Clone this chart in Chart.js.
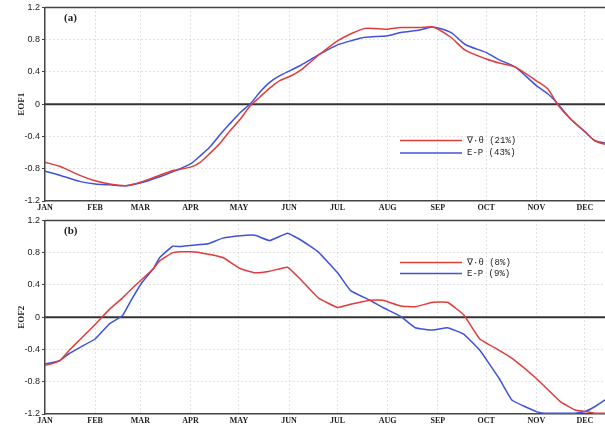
<!DOCTYPE html>
<html><head><meta charset="utf-8">
<script src="https://cdn.jsdelivr.net/npm/chart.js@4"></script>
<style>
html,body{margin:0;padding:0;background:#fff;overflow:hidden;width:605px;height:431px;position:relative;}
canvas{position:absolute;left:0;}
#ca{top:0;}
#cb{top:213px;}
</style></head><body>
<canvas id="ca" width="660" height="215"></canvas>
<canvas id="cb" width="660" height="218"></canvas>
<script>
const monthLabels = ['JAN','FEB','MAR','APR','MAY','JUN','JUL','AUG','SEP','OCT','NOV','DEC'];
const monthDays = [0,31,59,90,120,151,181,212,243,273,304,334];
const yTicks = [-1.2,-0.8,-0.4,0,0.4,0.8,1.2];

// Panel (a) EOF1
const daysA = [0,9,22,31,40,50,60,71,80,90,96,102,108,114,121,127,133,139,145,152,158,164,170,181,189,198,212,220,232,240,251,260,273,281,291,304,311,317,325,334,340,346,352];
const eof1Theta = [-0.72,-0.77,-0.885,-0.95,-0.99,-1.01,-0.96,-0.88,-0.82,-0.78,-0.72,-0.61,-0.49,-0.34,-0.18,-0.02,0.09,0.20,0.29,0.35,0.42,0.52,0.62,0.785,0.87,0.94,0.93,0.95,0.95,0.957,0.83,0.67,0.56,0.51,0.46,0.29,0.19,0.0,-0.18,-0.34,-0.45,-0.495,-0.52];
const eof1EP = [-0.83,-0.88,-0.96,-0.99,-1.0,-1.01,-0.97,-0.90,-0.83,-0.74,-0.64,-0.53,-0.385,-0.25,-0.10,0.005,0.15,0.27,0.35,0.42,0.48,0.55,0.62,0.735,0.785,0.83,0.85,0.89,0.92,0.957,0.89,0.74,0.64,0.55,0.46,0.23,0.13,0.01,-0.18,-0.34,-0.45,-0.48,-0.50];

// Panel (b) EOF2
const daysBTheta = [0,9,15,22,31,40,48,53,60,67,71,79,84,90,96,110,121,130,139,150,158,169,181,189,201,209,220,229,240,249,259,269,281,289,304,319,328,334,340,346,353];
const eof2Theta = [-0.60,-0.54,-0.41,-0.27,-0.09,0.10,0.24,0.34,0.47,0.60,0.70,0.80,0.81,0.81,0.80,0.74,0.60,0.55,0.57,0.62,0.47,0.24,0.12,0.16,0.21,0.21,0.14,0.13,0.185,0.185,0.03,-0.27,-0.41,-0.51,-0.76,-1.05,-1.15,-1.17,-1.19,-1.19,-1.19];
const daysBEP = [0,9,15,22,31,40,48,53,60,67,71,79,84,90,96,101,110,121,130,139,150,158,169,181,189,201,209,220,229,240,249,259,269,281,289,304,309,319,328,334,340,346,353];
const eof2EP = [-0.58,-0.54,-0.45,-0.37,-0.27,-0.08,0.02,0.20,0.43,0.60,0.74,0.88,0.875,0.89,0.90,0.91,0.98,1.01,1.015,0.95,1.04,0.96,0.81,0.55,0.33,0.21,0.12,0.01,-0.13,-0.16,-0.13,-0.21,-0.41,-0.76,-1.03,-1.17,-1.19,-1.19,-1.19,-1.17,-1.11,-1.03,-0.95];

const RED = '#e03c3c', BLUE = '#3f52dc';
const pts = (xs, ys) => xs.map((x, i) => ({x: x, y: ys[i]}));

const framePlugin = {
  id: 'frame',
  beforeDatasetsDraw(chart, args, o) {
    const {ctx, chartArea: a, scales} = chart;
    ctx.save();
    const y0 = scales.y.getPixelForValue(0);
    ctx.strokeStyle = '#333'; ctx.lineWidth = 2;
    ctx.beginPath(); ctx.moveTo(a.left, y0); ctx.lineTo(a.right, y0); ctx.stroke();
    ctx.strokeStyle = '#444'; ctx.lineWidth = 1.5;
    ctx.beginPath(); ctx.moveTo(a.left, a.top); ctx.lineTo(a.right, a.top); ctx.stroke();
    ctx.restore();
  },
  afterDatasetsDraw(chart, args, o) {
    const {ctx, chartArea: a} = chart;
    ctx.save();
    ctx.fillStyle = '#222';
    ctx.font = 'bold 11px "Liberation Serif"';
    ctx.textBaseline = 'middle';
    ctx.fillText(o.tag, a.left + 19, a.top + 11);
    ctx.font = '9px "Liberation Mono"';
    o.legend.forEach((l, i) => {
      ctx.strokeStyle = l.color; ctx.lineWidth = 1.6;
      ctx.beginPath(); ctx.moveTo(400, l.y); ctx.lineTo(462, l.y); ctx.stroke();
      ctx.fillStyle = '#222';
      ctx.fillText(l.text, 467, l.y);
    });
    ctx.restore();
  }
};

function makeChart(id, title, tag, s1, s2, legend, xh, tens) {
  return new Chart(document.getElementById(id), {
    type: 'line',
    data: { datasets: [
      {data: s1, borderColor: RED, borderWidth: 1.5, pointRadius: 0, tension: tens, fill: false},
      {data: s2, borderColor: BLUE, borderWidth: 1.5, pointRadius: 0, tension: tens, fill: false}
    ]},
    options: {
      responsive: false, animation: false, devicePixelRatio: 1,
      layout: {padding: {top: 6, right: 25, left: 0, bottom: 0}},
      plugins: {legend: {display: false}, tooltip: {enabled: false}, frame: {tag: tag, legend: legend}},
      scales: {
        x: {
          type: 'linear', min: 0, max: 365,
          afterBuildTicks: s => { s.ticks = monthDays.map(v => ({value: v})); },
          afterFit: s => { s.height = xh; },
          ticks: {autoSkip: false, maxRotation: 0, padding: 2, color: '#222',
            font: {family: 'Liberation Serif', size: 8, weight: 'bold'},
            callback: (v) => monthLabels[monthDays.indexOf(v)]},
          grid: {drawTicks: false, color: c => (c.tick && c.tick.value === 0) ? 'rgba(0,0,0,0)' : '#c4c4c4', lineWidth: 1},
          border: {display: true, color: '#444', width: 1.5, dash: [1, 3]}
        },
        y: {
          min: -1.2, max: 1.2,
          afterBuildTicks: s => { s.ticks = yTicks.map(v => ({value: v})); },
          afterFit: s => { s.width = 45; },
          ticks: {padding: 2, color: '#222', font: {family: 'Liberation Sans', size: 9},
            callback: v => Math.abs(v) < 1e-9 ? '0' : v.toFixed(1)},
          grid: {drawTicks: true, tickLength: 3, tickColor: '#444', tickWidth: 1,
            color: c => (c.tick && (Math.abs(c.tick.value) < 1e-9 || Math.abs(c.tick.value) > 1.19)) ? 'rgba(0,0,0,0)' : '#c4c4c4', lineWidth: 1},
          border: {display: true, color: '#444', width: 1.5, dash: [1, 3]},
          title: {display: true, text: title, color: '#222', font: {family: 'Liberation Serif', size: 9, weight: 'bold'}, padding: {top: 16, bottom: 0}}
        }
      }
    },
    plugins: [framePlugin]
  });
}

makeChart('ca', 'EOF1', '(a)', pts(daysA, eof1Theta), pts(daysA, eof1EP),
  [{color: RED, y: 140.5, text: '\u2207\u00b7\u03b8 (21%)'}, {color: BLUE, y: 153, text: 'E-P (43%)'}], 14, 0.25);
makeChart('cb', 'EOF2', '(b)', pts(daysBTheta, eof2Theta), pts(daysBEP, eof2EP),
  [{color: RED, y: 49.5, text: '\u2207\u00b7\u03b8 (8%)'}, {color: BLUE, y: 60.5, text: 'E-P (9%)'}], 17, 0.1);
</script>
</body></html>
